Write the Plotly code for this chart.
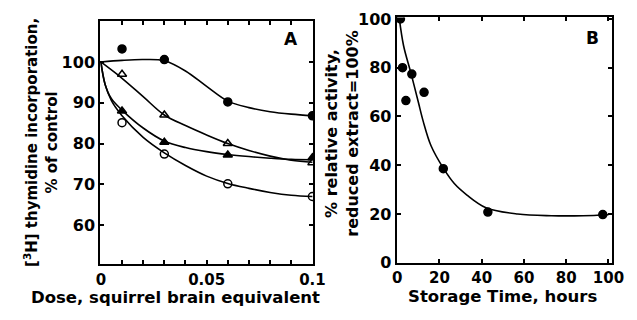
import plotly.graph_objects as go

# ---------------- Panel A data ----------------
dose = [0.01, 0.03, 0.06, 0.1]
filled_circle_y = [103.2, 100.6, 90.2, 86.8]
open_triangle_y = [97.0, 87.0, 80.0, 75.3]
filled_triangle_y = [88.0, 80.3, 77.2, 76.5]
open_circle_y = [85.1, 77.4, 70.1, 67.0]

# fitted curves
curve1_x = [0, 0.01, 0.02, 0.03, 0.04, 0.05, 0.06, 0.07, 0.08, 0.09, 0.1]
curve1_y = [100, 100.4, 100.6, 100.3, 97.8, 94.0, 90.4, 88.8, 87.8, 87.2, 86.8]
curve2_x = [0, 0.01, 0.02, 0.03, 0.04, 0.05, 0.06, 0.07, 0.08, 0.09, 0.1]
curve2_y = [100, 96.0, 91.5, 87.0, 84.4, 82.1, 80.0, 78.3, 76.9, 75.9, 75.4]
curve3_x = [0, 0.002, 0.005, 0.01, 0.02, 0.03, 0.04, 0.05, 0.06, 0.07, 0.08, 0.09, 0.1]
curve3_y = [100, 94.5, 91.0, 88.2, 83.8, 80.6, 79.0, 78.0, 77.3, 76.8, 76.4, 76.1, 76.0]
curve4_x = [0, 0.002, 0.005, 0.01, 0.02, 0.03, 0.04, 0.05, 0.06, 0.07, 0.08, 0.09, 0.1]
curve4_y = [100, 94.5, 90.5, 86.8, 81.5, 77.7, 74.6, 72.0, 70.2, 69.0, 68.0, 67.3, 67.0]

a_xtick_vals = [0, 0.05, 0.1]
a_xtick_text = ["0", "0.05", "0.1"]
a_xminor_vals = [0, 0.01, 0.02, 0.03, 0.04, 0.05, 0.06, 0.07, 0.08, 0.09, 0.1]
a_ytick_vals = [60, 70, 80, 90, 100]

# ---------------- Panel B data ----------------
storage_h = [1.5, 2.5, 4.1, 6.9, 12.7, 21.8, 42.9, 97.3]
activity = [100, 80, 66.5, 77.4, 69.9, 38.6, 20.8, 19.8]
curveB_x = [1, 3, 6.6, 10, 12.3, 16, 21.9, 27, 33, 42, 57, 73, 88, 100]
curveB_y = [100, 89, 77.4, 65.8, 58, 48, 38.7, 32.5, 27.8, 22.6, 20.0, 19.3, 19.3, 19.7]

b_tick_vals = [0, 20, 40, 60, 80, 100]

FONT = "DejaVu Sans"
LW = 1.6
MS = 8

fig = go.Figure()

def curve(x, y, xa, ya):
    fig.add_trace(go.Scatter(x=x, y=y, mode="lines", xaxis=xa, yaxis=ya,
                             line=dict(color="black", width=LW, shape="spline", smoothing=1.0),
                             hoverinfo="skip", showlegend=False))

def pts(x, y, symbol, xa, ya):
    fig.add_trace(go.Scatter(x=x, y=y, mode="markers", xaxis=xa, yaxis=ya,
                             marker=dict(symbol=symbol, size=MS, color="black",
                                         line=dict(color="black", width=1.5)),
                             showlegend=False))

curve(curve1_x, curve1_y, "x", "y")
curve(curve2_x, curve2_y, "x", "y")
curve(curve3_x, curve3_y, "x", "y")
curve(curve4_x, curve4_y, "x", "y")
pts(dose, filled_circle_y, "circle", "x", "y")
pts(dose, open_triangle_y, "triangle-up-open", "x", "y")
pts(dose, filled_triangle_y, "triangle-up", "x", "y")
pts(dose, open_circle_y, "circle-open", "x", "y")

curve(curveB_x, curveB_y, "x2", "y2")
pts(storage_h, activity, "circle", "x2", "y2")

def axis_style(size):
    return dict(showline=True, linecolor="black", linewidth=2, mirror="ticks",
                ticks="inside", ticklen=4, tickwidth=1.5, tickcolor="black",
                showgrid=False, zeroline=False,
                tickfont=dict(family=FONT, size=size, color="black", weight="bold"))

fig.update_layout(
    width=637, height=320,
    margin=dict(l=0, r=0, t=0, b=0),
    paper_bgcolor="white", plot_bgcolor="white",
    xaxis=dict(domain=[98/637, 317/637], range=[-0.0003, 0.1003],
               tickmode="array", tickvals=a_xtick_vals, ticktext=a_xtick_text,
               minor=dict(tickmode="array", tickvals=a_xminor_vals, ticks="inside",
                          ticklen=4, tickwidth=1.5, tickcolor="black", showgrid=False),
               ticklabelstandoff=1, anchor="y", **axis_style(15)),
    yaxis=dict(domain=[1-271/320, 1-14/320], range=[50.5, 110],
               tickmode="array", tickvals=a_ytick_vals, anchor="x", **axis_style(16)),
    xaxis2=dict(domain=[403/637, 624.5/637], range=[-0.3, 101.6],
                tickmode="array", tickvals=b_tick_vals, ticklabelstandoff=0,
                anchor="y2", **axis_style(15)),
    yaxis2=dict(domain=[1-270/320, 1-10/320], range=[0, 100.6],
                tickmode="array", tickvals=b_tick_vals, anchor="x2", **axis_style(16)),
)

def ann(text, x, y, size, angle=0):
    fig.add_annotation(text=text, x=x/637, y=1-y/320, xref="paper", yref="paper",
                       showarrow=False, textangle=angle, xanchor="center", yanchor="middle",
                       font=dict(family=FONT, size=size, color="black", weight="bold"))

ann("Dose, squirrel brain equivalent", 175, 307, 16.5)
ann("Storage Time, hours", 512, 306, 16.5)
ann("[<sup>3</sup>H] thymidine incorporation,<br>% of control", 37, 142, 15, -90)
ann("% relative activity,<br>reduced extract=100%", 346, 133, 16, -90)
ann("A", 294, 33, 17)
ann("B", 605, 32, 17)

fig.write_html("out.html")
